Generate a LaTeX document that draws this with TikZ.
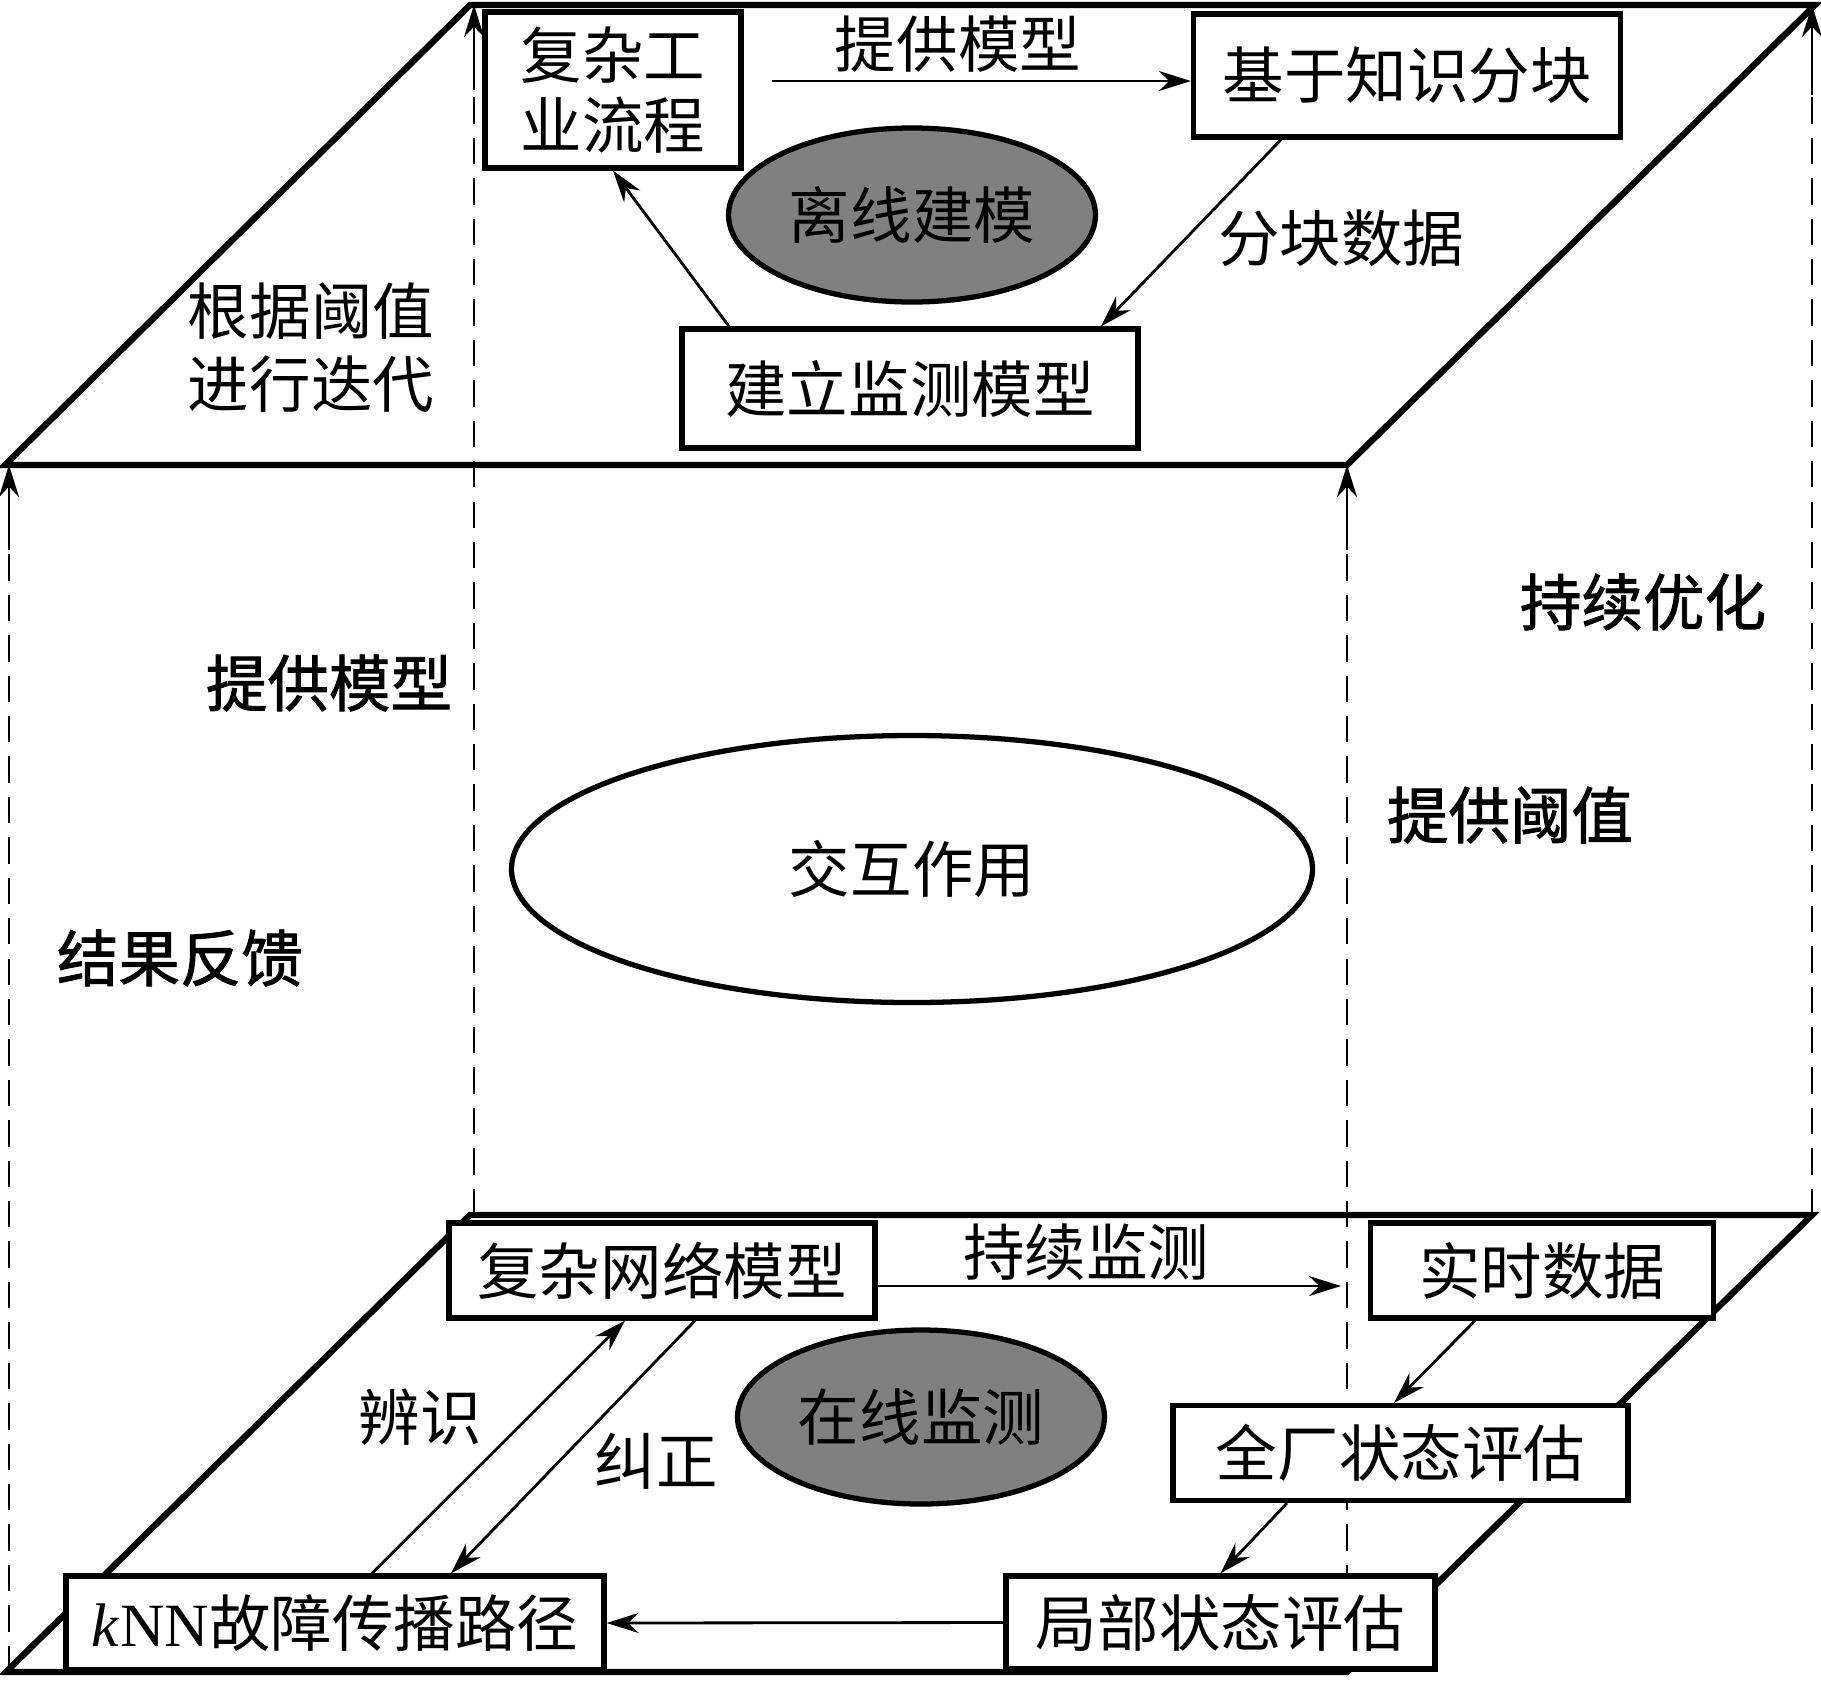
\documentclass[tikz,border=0pt]{standalone}
\usepackage{fontspec}
\setmainfont{Liberation Serif}
\newfontfamily\cjk{Noto Sans CJK SC}
\newfontfamily\cjkm{Noto Sans CJK SC}[FakeBold=1.5]
\usetikzlibrary{arrows.meta,shapes.geometric}
\definecolor{ovalgray}{RGB}{128,128,128}

\begin{document}
\begin{tikzpicture}[
	box/.style={draw, line width=1.5pt, fill=white, inner sep=0pt, font=\cjk\fontsize{17.5}{20}\selectfont},
	oval/.style={draw, ellipse, line width=1.5pt, inner sep=0pt, font=\cjk\fontsize{17.5}{20}\selectfont},
	plane/.style={line width=1.8pt, line join=miter},
	flow/.style={-{Stealth[length=3.2mm,width=2mm]}, line width=0.8pt},
	guide/.style={line width=0.8pt, dash pattern=on 7.5pt off 4pt},
	lbl/.style={inner sep=0pt, align=center, font=\cjk\fontsize{17.5}{20.7}\selectfont},
	lblb/.style={lbl, font=\cjkm\fontsize{17.5}{20.7}\selectfont},
	]
	\fill[white] (0,0) rectangle (18.21,-16.82);
	\useasboundingbox (0,0) rectangle (18.21,-16.82);

	% corners of the two planes
	\coordinate[](t1) at (4.70,-0.05);
	\coordinate[](t2) at (18.15,-0.05);
	\coordinate[](t3) at (13.47,-4.65);
	\coordinate[](t4) at (0.05,-4.65);
	\coordinate[](b1) at (4.70,-12.15);
	\coordinate[](b2) at (18.12,-12.15);
	\coordinate[](b3) at (13.47,-16.72);
	\coordinate[](b4) at (0.06,-16.72);

	\draw[plane](t1)--(t2)--(t3)--(t4)--cycle;
	\draw[plane](b1)--(b2)--(b3)--(b4)--cycle;

	% vertical guides
	\coordinate[](g1b) at (0.09,-16.72);
	\coordinate[](g1s) at (0.09,-5.50);
	\coordinate[](g1t) at (0.09,-4.65);
	\coordinate[](g2b) at (4.74,-12.15);
	\coordinate[](g2s) at (4.74,-0.90);
	\coordinate[](g2t) at (4.74,-0.05);
	\coordinate[](g3b) at (13.47,-16.72);
	\coordinate[](g3s) at (13.47,-5.50);
	\coordinate[](g3t) at (13.47,-4.65);
	\coordinate[](g4b) at (18.12,-12.15);
	\coordinate[](g4s) at (18.12,-0.95);
	\coordinate[](g4t) at (18.12,-0.05);
	\foreach \g in {g1,g2,g3,g4}{
		\draw[guide](\g b)--(\g s);
		\draw[flow](\g s)--(\g t);
	}

	% offline modelling
	\node[box, minimum width=2.56cm, minimum height=1.56cm, align=center] (proc) at (6.13,-0.90) {复杂工\\业流程};
	\node[box, minimum width=4.27cm, minimum height=1.23cm] (block) at (14.07,-0.755) {基于知识分块};
	\node[oval, fill=ovalgray, minimum width=3.67cm, minimum height=1.74cm] (offline) at (9.12,-2.15) {离线建模};
	\node[box, minimum width=4.56cm, minimum height=1.19cm] (build) at (9.10,-3.885) {建立监测模型};

	\coordinate[](a1) at (7.72,-0.81);
	\draw[flow](a1)--(a1 -| block.west);
	\draw[flow]([xshift=-1.26cm]block.south)--([xshift=1.91cm]build.north);
	\draw[flow]([xshift=-1.81cm]build.north)--(proc.south);

	\node[lbl] (l1) at (9.58,-0.44) {提供模型};
	\node[lbl] (l2) at (13.41,-2.38) {分块数据};
	\node[lbl] (l3) at (3.11,-3.48) {根据阈值\\进行迭代};

	% interaction
	\node[oval, fill=white, minimum width=8.01cm, minimum height=2.67cm] (inter) at (9.12,-8.69) {交互作用};
	\node[lblb] (l4) at (3.29,-6.83) {提供模型};
	\node[lblb] (l5) at (1.80,-9.58) {结果反馈};
	\node[lblb] (l6) at (16.43,-6.02) {持续优化};
	\node[lblb] (l7) at (15.10,-8.15) {提供阈值};

	% online monitoring
	\node[box, minimum width=4.26cm, minimum height=0.95cm] (net) at (6.62,-12.705) {复杂网络模型};
	\node[box, minimum width=3.43cm, minimum height=0.95cm] (real) at (15.42,-12.705) {实时数据};
	\node[box, minimum width=4.55cm, minimum height=0.95cm] (plant) at (14.005,-14.53) {全厂状态评估};
	\node[box, minimum width=4.29cm, minimum height=0.93cm] (local) at (12.205,-16.225) {局部状态评估};
	\node[box, minimum width=5.38cm, minimum height=0.94cm] (knn) at (3.35,-16.23) {{\rmfamily\textit{k}NN}故障传播路径};
	\node[oval, fill=ovalgray, minimum width=3.67cm, minimum height=1.74cm] (online) at (9.21,-14.17) {在线监测};

	\coordinate[](watch) at (13.41,-12.86);
	\draw[flow]([yshift=-0.155cm]net.east)--(watch);
	\draw[flow]([xshift=-0.67cm]real.south)--([xshift=-0.065cm]plant.north);
	\draw[flow]([xshift=-1.135cm]plant.south)--(local.north);
	\draw[flow](local.west)--(knn.east);
	\draw[flow]([xshift=0.37cm]knn.north)--([xshift=-0.37cm]net.south);
	\draw[flow]([xshift=0.33cm]net.south)--([xshift=1.16cm]knn.north);

	\node[lbl] (l8) at (10.86,-12.52) {持续监测};
	\node[lbl] (l9) at (4.20,-14.17) {辨识};
	\node[lbl] (l10) at (6.56,-14.61) {纠正};
\end{tikzpicture}
\end{document}
